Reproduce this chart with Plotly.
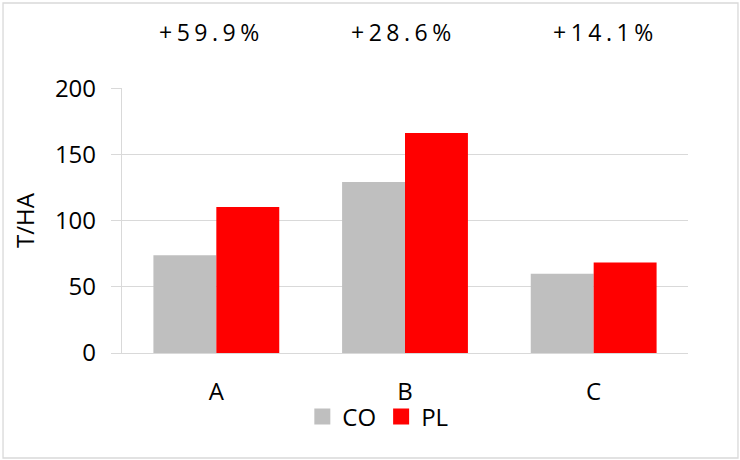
import plotly.graph_objects as go

categories = ["A", "B", "C"]
co_values = [74, 129.5, 60]
pl_values = [110.5, 166.5, 68.5]
change_labels = ["+59.9%", "+28.6%", "+14.1%"]
label_shifts = [-5, -2, 12]
y_ticks = [0, 50, 100, 150, 200]
series_names = ["CO", "PL"]
series_colors = ["#bfbfbf", "#ff0000"]

FONT = "Open Sans"
GRID = "#d9d9d9"

fig = go.Figure()
for name, vals, col in zip(series_names, [co_values, pl_values], series_colors):
    fig.add_trace(go.Bar(name=name, x=categories, y=vals, showlegend=False,
                         marker=dict(color=col, line=dict(width=0))))
# legend entries with larger square keys
for name, col in zip(series_names, series_colors):
    fig.add_trace(go.Scatter(name=name, x=[None], y=[None], mode="markers",
                             marker=dict(symbol="square", size=16, color=col, line=dict(width=0)),
                             hoverinfo="skip"))

for cat, lab, dx in zip(categories, change_labels, label_shifts):
    fig.add_annotation(
        x=cat, xref="x", y=1.212, yref="paper", yanchor="middle",
        text=f'<span style="letter-spacing:4.5px">{lab}</span>',
        showarrow=False, xshift=dx,
        font=dict(family=FONT, size=23, color="#000000"),
    )

# chart-area border
fig.add_shape(type="rect", xref="paper", yref="paper",
              x0=-0.2102, x1=1.0883, y0=-0.3962, y1=1.3208,
              line=dict(color=GRID, width=1.3), fillcolor="rgba(0,0,0,0)", layer="below")

fig.update_layout(
    width=740, height=460,
    margin=dict(l=122, r=52, t=88, b=107),
    paper_bgcolor="white", plot_bgcolor="white",
    barmode="group", bargap=0.333, bargroupgap=0,
    font=dict(family=FONT, size=24, color="#000000"),
    showlegend=True,
    legend=dict(orientation="h", x=0.452, xanchor="center", y=-0.2415, yanchor="middle",
                font=dict(family=FONT, size=24), bgcolor="rgba(0,0,0,0)", itemclick=False,
                itemwidth=30),
    xaxis=dict(showline=True, linecolor=GRID, linewidth=1.3, ticks="", showgrid=False,
               tickfont=dict(family=FONT, size=24), ticklabelstandoff=17, automargin=False),
    yaxis=dict(range=[0, 200.6], tickvals=y_ticks, showgrid=True, gridcolor=GRID, gridwidth=1.3,
               showline=True, linecolor=GRID, linewidth=1.3, ticks="outside", ticklen=10,
               tickcolor=GRID, tickwidth=1.3, zeroline=False, automargin=False,
               tickfont=dict(family=FONT, size=24), ticklabelstandoff=10,
               title=dict(text="T/HA", font=dict(family=FONT, size=24), standoff=13)),
)

fig.write_html("out.html", config={"displayModeBar": False},
               post_script="document.body.style.margin='0px';")
